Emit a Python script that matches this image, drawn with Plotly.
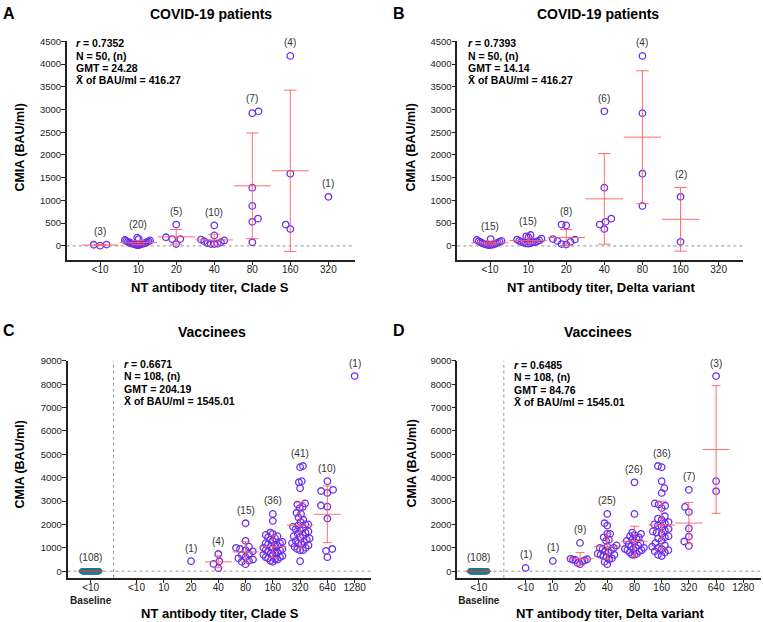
import numpy as np
import plotly.graph_objects as go

# titer categories
titers_pat = ['<10', '10', '20', '40', '80', '160', '320']
titers_vac = ['<10', '10', '20', '40', '80', '160', '320', '640', '1280']

# CMIA values (BAU/ml) per titer group
a_vals = [
    [30, 5, 25],
    [180, 150, 130, 120, 110, 100, 90, 80, 75, 70, 60, 55, 50, 45, 40, 35, 30, 25, 20, 15],
    [470, 150, 40, 150, 190],
    [450, 230, 140, 120, 100, 80, 60, 50, 40, 40],
    [2920, 2960, 1280, 880, 530, 600, 80],
    [4180, 1590, 370, 470],
    [1080],
]
b_vals = [
    [150, 130, 110, 100, 90, 80, 70, 60, 50, 40, 35, 30, 25, 20, 15],
    [240, 210, 190, 160, 140, 120, 110, 100, 90, 80, 80, 70, 60, 55, 50],
    [470, 450, 150, 140, 110, 90, 40, 30],
    [2960, 1280, 600, 530, 470, 370],
    [4180, 2920, 1590, 880],
    [1080, 90],
    [],
]
c_vals = [
    [],
    [],
    [430],
    [735, 424, 311, 127],
    [2050, 1300, 1050, 1000, 950, 900, 850, 750, 700, 600, 550, 500, 450, 400, 300],
    [2450, 2150, 1650, 1600, 1550, 1500, 1450, 1400, 1350, 1300, 1250, 1200, 1200, 1150,
     1100, 1100, 1050, 1000, 1000, 950, 900, 900, 850, 800, 800, 750, 700, 700, 650, 600,
     600, 550, 500, 500, 450, 400],
    [4500, 4450, 3850, 3800, 3550, 2900, 2850, 2750, 2700, 2500, 2450, 2300, 2200, 2100,
     2000, 2000, 1950, 1900, 1850, 1800, 1750, 1700, 1650, 1600, 1550, 1500, 1450, 1400,
     1350, 1300, 1250, 1200, 1200, 1150, 1100, 1050, 1000, 950, 900, 900, 430],
    [3850, 3480, 3430, 3350, 2810, 2760, 2250, 950, 870, 600],
    [8350],
]
d_vals = [
    [140],
    [440],
    [1210, 530, 510, 490, 480, 460, 420, 350, 300],
    [2450, 2050, 1950, 1600, 1600, 1450, 1350, 1300, 1100, 1050, 1000, 1000, 950, 900, 850,
     800, 750, 700, 700, 650, 600, 550, 500, 400, 300],
    [3800, 2450, 1650, 1600, 1550, 1500, 1450, 1400, 1350, 1300, 1250, 1200, 1150, 1100,
     1050, 1000, 1000, 950, 950, 900, 900, 850, 800, 750, 700, 700],
    [4500, 4450, 3850, 3550, 3350, 2900, 2850, 2800, 2700, 2350, 2250, 2200, 2100, 2050,
     2000, 1950, 1900, 1800, 1750, 1700, 1650, 1600, 1500, 1450, 1400, 1300, 1200, 1100,
     1050, 1000, 950, 900, 850, 800, 700, 650],
    [3480, 2750, 2530, 1830, 1480, 1270, 1080],
    [8350, 3850, 3420],
    [],
]
# baseline sera of the vaccinees, all at ~0 BAU/ml
baseline_vac = [0] * 108

a_stats = ['<i>r</i> = 0.7352', 'N = 50, (n)', 'GMT = 24.28', 'X\u0304 of BAU/ml = 416.27']
b_stats = ['<i>r</i> = 0.7393', 'N = 50, (n)', 'GMT = 14.14', 'X\u0304 of BAU/ml = 416.27']
c_stats = ['<i>r</i> = 0.6671', 'N = 108, (n)', 'GMT = 204.19', 'X\u0304 of BAU/ml = 1545.01']
d_stats = ['<i>r</i> = 0.6485', 'N = 108, (n)', 'GMT = 84.76', 'X\u0304 of BAU/ml = 1545.01']

W, H = 763, 622
FONT = 'Liberation Sans, Arial, sans-serif'
PURPLE = 'rgb(106,46,236)'
RED = 'rgba(255,95,95,0.9)'
TEAL = 'rgb(28,124,140)'


def px(x):
    return x / W


def py(y):
    return 1 - y / H


def swarm(vals, ypx, xpx, d=6.5, maxhw=13.0):
    # simple beeswarm in pixel space, squeezed to maxhw if it gets too wide
    order = sorted(range(len(vals)), key=lambda i: vals[i])
    placed = []
    offs = [0.0] * len(vals)
    for n, i in enumerate(order):
        y = vals[i] * ypx
        cands = [0.0]
        for xj, yj in placed:
            dy = abs(y - yj)
            if dy < d:
                dx = (d * d - dy * dy) ** 0.5
                cands += [xj + dx, xj - dx]
        side = 1 if n % 2 else -1
        best = 0.0
        for c in sorted(cands, key=lambda c: (round(abs(c), 6), c * side)):
            if all((c - xj) ** 2 + (y - yj) ** 2 >= d * d - 1e-6 for xj, yj in placed):
                best = c
                break
        placed.append((best, y))
        offs[i] = best
    m = max(abs(o) for o in offs)
    scale = min(1.0, maxhw / m) if m > 0 else 1.0
    return [o * scale / xpx for o in offs]


panels = [
    dict(letter='A', n='', vals=a_vals, labels=titers_pat, base=None, stats=a_stats,
         title='COVID-19 patients', xtitle='NT antibody titer, Clade S',
         xdom=(66.7, 355), ydom=(35.7, 256), xr=(-0.88, 6.7), yr=(-300, 4500), dt=500,
         let_xy=(1, 8), tit_xy=(211, 8), xt_xy=(210, 284), yt_xy=(20, 143), st_xy=(74, 37.7)),
    dict(letter='B', n='2', vals=b_vals, labels=titers_pat, base=None, stats=b_stats,
         title='COVID-19 patients', xtitle='NT antibody titer, Delta variant',
         xdom=(457.3, 743), ydom=(35.7, 256), xr=(-0.86, 6.64), yr=(-300, 4500), dt=500,
         let_xy=(391, 8), tit_xy=(598, 8), xt_xy=(601, 284), yt_xy=(411, 143), st_xy=(466, 37.7)),
    dict(letter='C', n='3', vals=c_vals, labels=titers_vac, base=baseline_vac, stats=c_stats,
         title='Vaccinees', xtitle='NT antibody titer, Clade S',
         xdom=(67.5, 371), ydom=(358.3, 577.3), xr=(-2.53, 8.6), yr=(-280, 9000), dt=1000,
         bx=-1.68, vline=-0.84,
         let_xy=(1, 328), tit_xy=(212, 329), xt_xy=(220, 613), yt_xy=(20, 463), st_xy=(122, 361.7)),
    dict(letter='D', n='4', vals=d_vals, labels=titers_vac, base=baseline_vac, stats=d_stats,
         title='Vaccinees', xtitle='NT antibody titer, Delta variant',
         xdom=(457.3, 761), ydom=(358.3, 577.3), xr=(-2.51, 8.65), yr=(-280, 9000), dt=1000,
         bx=-1.72, vline=-0.80,
         let_xy=(391, 328), tit_xy=(598, 329), xt_xy=(610, 613), yt_xy=(412, 462), st_xy=(512, 362.7)),
]

fig = go.Figure()
annotations = []
shapes = []
layout = {}

for p in panels:
    xa, ya = 'x' + p['n'], 'y' + p['n']
    xpx = (p['xdom'][1] - p['xdom'][0]) / (p['xr'][1] - p['xr'][0])
    ypx = (p['ydom'][1] - p['ydom'][0]) / (p['yr'][1] - p['yr'][0])
    meanw = 0.7 * xpx
    capw = 0.165 * xpx
    hw = 0.35 * xpx

    tickvals = list(range(len(p['labels'])))
    ticktext = list(p['labels'])

    # baseline group
    if p['base'] is not None:
        bo = swarm(p['base'], ypx, xpx, maxhw=8.5)
        fig.add_trace(go.Scatter(
            x=[p['bx'] + o for o in bo], y=p['base'], xaxis=xa, yaxis=ya, mode='markers',
            marker=dict(symbol='circle', size=6, color=TEAL, line=dict(width=0)),
            showlegend=False, hoverinfo='skip'))
        fig.add_trace(go.Scatter(
            x=[p['bx']], y=[float(np.mean(p['base']))], xaxis=xa, yaxis=ya, mode='markers',
            marker=dict(symbol='line-ew', size=18, line=dict(color='rgb(220,60,60)', width=1.2)),
            showlegend=False, hoverinfo='skip'))
        annotations.append(dict(x=p['bx'], y=max(p['base']), xref=xa, yref=ya,
                                text='(%d)' % len(p['base']), showarrow=False, yshift=14,
                                font=dict(size=10, color='#333', family=FONT)))
        tickvals = [p['bx']] + tickvals
        ticktext = ['<10<br><b>Baseline</b>'] + ticktext

    # points
    xs, ys = [], []
    mx, my, ms = [], [], []
    for gi, vals in enumerate(p['vals']):
        if not vals:
            continue
        offs = swarm(vals, ypx, xpx, maxhw=hw)
        xs += [gi + o for o in offs]
        ys += vals
        top = max(vals)
        if len(vals) > 1:
            m, s = float(np.mean(vals)), float(np.std(vals, ddof=1))
            mx.append(gi)
            my.append(m)
            ms.append(s)
            top = max(top, m + s)
        annotations.append(dict(x=gi, y=top, xref=xa, yref=ya, text='(%d)' % len(vals),
                                showarrow=False, yshift=13,
                                font=dict(size=10, color='#333', family=FONT)))

    fig.add_trace(go.Scatter(
        x=xs, y=ys, xaxis=xa, yaxis=ya, mode='markers',
        marker=dict(symbol='circle-open', size=6.5, color=PURPLE, line=dict(width=1.3)),
        showlegend=False))
    fig.add_trace(go.Scatter(
        x=mx, y=my, xaxis=xa, yaxis=ya, mode='markers',
        marker=dict(symbol='line-ew', size=meanw, line=dict(color=RED, width=1)),
        error_y=dict(type='data', array=ms, visible=True, color=RED, thickness=1, width=capw),
        showlegend=False))

    # dotted zero line and baseline divider
    shapes.append(dict(type='line', xref=xa + ' domain', yref=ya, x0=0, x1=1, y0=0, y1=0,
                       line=dict(color='#888', width=0.9, dash='dot'), layer='below'))
    if 'vline' in p:
        shapes.append(dict(type='line', xref=xa, yref=ya + ' domain', x0=p['vline'], x1=p['vline'],
                           y0=0, y1=1, line=dict(color='#888', width=0.9, dash='dot'), layer='below'))

    axis_common = dict(showline=True, linecolor='#222', linewidth=1.5, ticks='outside',
                       ticklen=4, tickwidth=1.2, tickcolor='#222', showgrid=False, zeroline=False)
    layout['xaxis' + p['n']] = dict(
        domain=[px(p['xdom'][0]), px(p['xdom'][1])], anchor=ya, range=list(p['xr']),
        tickmode='array', tickvals=tickvals, ticktext=ticktext, ticklabelstandoff=-4,
        tickfont=dict(size=10, color='#222', family=FONT), **axis_common)
    layout['yaxis' + p['n']] = dict(
        domain=[py(p['ydom'][1]), py(p['ydom'][0])], anchor=xa, range=list(p['yr']),
        tickmode='array', tickvals=list(range(0, p['yr'][1] + 1, p['dt'])), ticklabelstandoff=-2,
        tickfont=dict(size=9.5, color='#222', family=FONT), **axis_common)

    # texts
    lx, ly = p['let_xy']
    annotations.append(dict(x=px(lx), y=py(ly), xref='paper', yref='paper', text='<b>%s</b>' % p['letter'],
                            showarrow=False, xanchor='left', yanchor='middle',
                            font=dict(size=16, color='black', family=FONT)))
    tx, ty = p['tit_xy']
    annotations.append(dict(x=px(tx), y=py(ty), xref='paper', yref='paper', text='<b>%s</b>' % p['title'],
                            showarrow=False, xanchor='center', yanchor='middle',
                            font=dict(size=14, color='black', family=FONT)))
    xx, xy = p['xt_xy']
    annotations.append(dict(x=px(xx), y=py(xy), xref='paper', yref='paper', text='<b>%s</b>' % p['xtitle'],
                            showarrow=False, xanchor='center', yanchor='middle',
                            font=dict(size=13, color='black', family=FONT)))
    yx, yy = p['yt_xy']
    annotations.append(dict(x=px(yx), y=py(yy), xref='paper', yref='paper', text='<b>CMIA (BAU/ml)</b>',
                            showarrow=False, xanchor='center', yanchor='middle', textangle=-90,
                            font=dict(size=12.5, color='black', family=FONT)))
    sx, sy = p['st_xy']
    for k, line in enumerate(p['stats']):
        annotations.append(dict(x=px(sx), y=py(sy + 12.4 * k), xref='paper', yref='paper',
                                text='<b>%s</b>' % line, showarrow=False, xanchor='left',
                                yanchor='middle', font=dict(size=10.5, color='black', family=FONT)))

fig.update_layout(
    width=W, height=H, margin=dict(l=0, r=0, t=0, b=0),
    paper_bgcolor='white', plot_bgcolor='white',
    font=dict(family=FONT, color='#222'),
    annotations=annotations, shapes=shapes, showlegend=False,
    **layout)

# drop the browser's default body margin so the 763x622 figure fills the window
fig.write_html("out.html", config={'displayModeBar': False},
               post_script="document.body.style.margin='0';")
